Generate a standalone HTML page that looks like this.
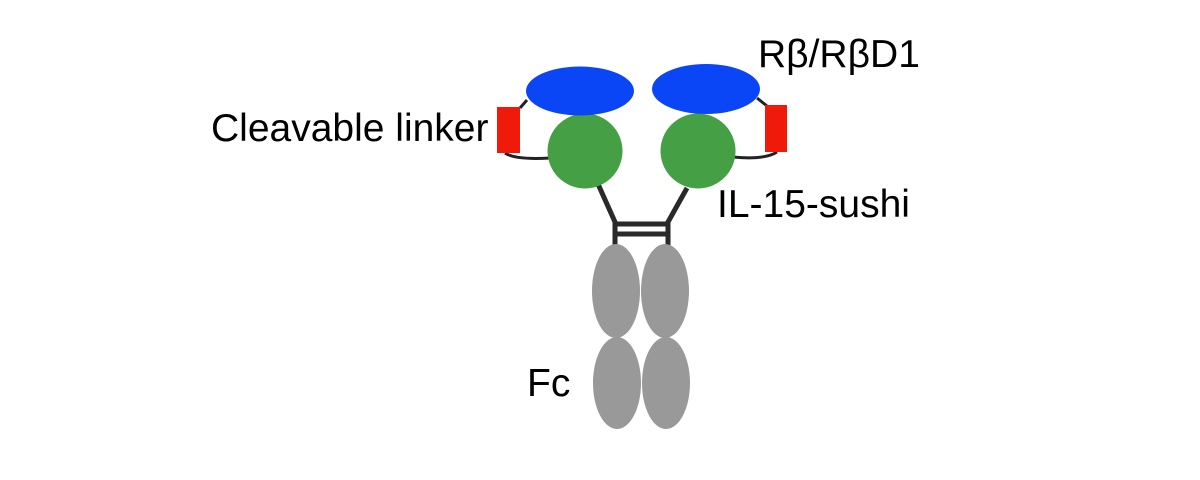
<!DOCTYPE html>
<html><head><style>
body{margin:0;background:#fff;}
svg text{font-family:"Liberation Sans",Arial,sans-serif;font-size:39px;fill:#000;}
</style></head><body>
<svg width="1200" height="475" viewBox="0 0 1200 475" xmlns="http://www.w3.org/2000/svg">
<g stroke="#222" stroke-width="3" fill="none">
<path d="M527 100 L520 108"/>
<path d="M505 153 Q515 160 550 158"/>
<path d="M757 98 L767 106"/>
<path d="M777 152 Q765 160 733 157"/>
</g>
<g stroke="#2a2a2a" stroke-width="5" fill="none">
<path d="M598 184 L615 222 L615 246"/>
<path d="M687 188 L668 222 L668 246"/>
<path d="M615 224 L668 224"/>
<path d="M615 234 L668 234"/>
</g>
<ellipse cx="616" cy="291" rx="24" ry="47" fill="#999"/>
<ellipse cx="665" cy="291" rx="24" ry="47" fill="#999"/>
<ellipse cx="617" cy="383" rx="24" ry="46" fill="#999"/>
<ellipse cx="666" cy="383" rx="24" ry="46" fill="#999"/>
<rect x="497" y="107" width="23" height="46" fill="#f01a0a"/>
<rect x="765" y="105" width="22" height="47" fill="#f01a0a"/>
<circle cx="585" cy="151" r="37.5" fill="#45a045"/>
<circle cx="698" cy="151" r="37.5" fill="#45a045"/>
<ellipse cx="580" cy="91" rx="54" ry="24.5" fill="#0a46f5"/>
<ellipse cx="706" cy="89" rx="54" ry="25" fill="#0a46f5"/>
<text x="758" y="67">Rβ/RβD1</text>
<text x="211" y="141">Cleavable linker</text>
<text x="717" y="217">IL-15-sushi</text>
<text x="527" y="396">Fc</text>
</svg>
</body></html>
